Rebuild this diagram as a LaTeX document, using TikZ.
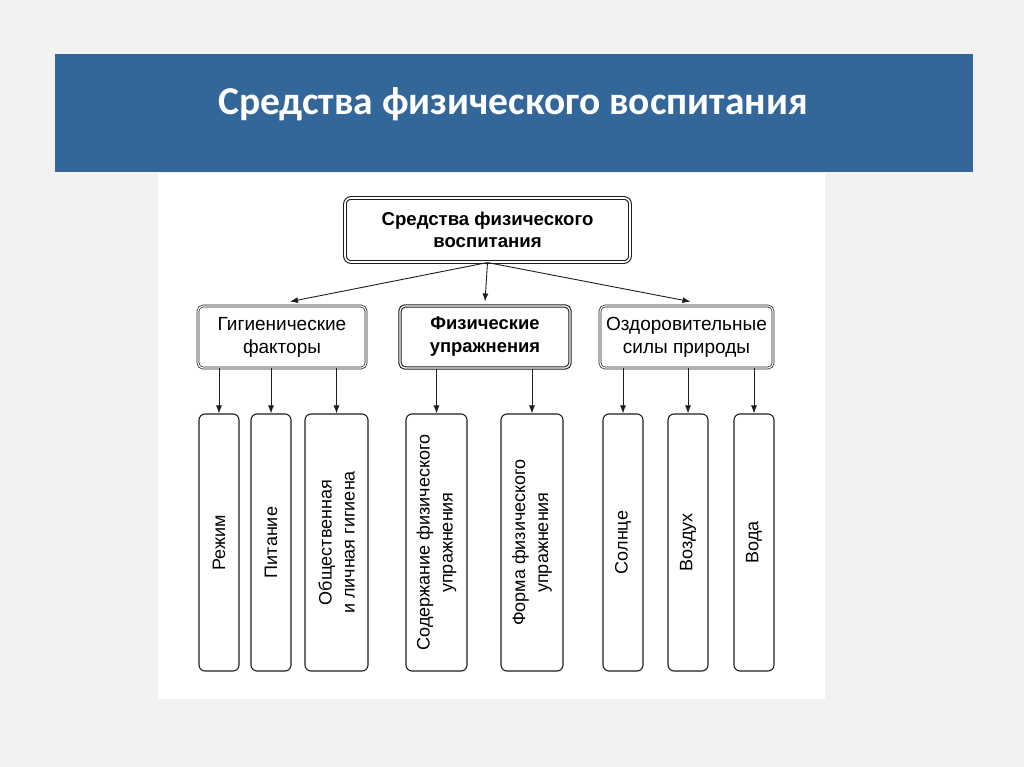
\documentclass[tikz,border=0pt]{standalone}
\usepackage{fontspec}
\setmainfont{Liberation Sans}
\newfontfamily\titlefont{Carlito}
\usetikzlibrary{arrows.meta}
\definecolor{banner}{RGB}{51,102,153}
\definecolor{slidebg}{RGB}{242,242,242}
\definecolor{ink}{RGB}{30,30,30}
\tikzset{
  titletext/.style={text=white, font=\titlefont\bfseries\fontsize{39.5}{44}\selectfont},
  topbox/.style={draw=ink, double=white, line width=1.1pt, double distance=1.6pt, rounded corners=6pt,
    align=center, minimum width=285, minimum height=64, inner sep=0pt, font=\bfseries\fontsize{18.6}{22}\selectfont},
  midbox/.style={draw=ink, double=white, line width=0.7pt, double distance=1.2pt, rounded corners=5pt,
    align=center, minimum height=62, inner sep=0pt, font=\fontsize{19}{23}\selectfont},
  boldmid/.style={midbox, line width=1.1pt, font=\bfseries\fontsize{18.4}{23}\selectfont},
  leafbox/.style={draw=ink, line width=1.1pt, rounded corners=6pt, rotate=90, align=center,
    minimum width=257, inner sep=0pt, font=\fontsize{18}{23}\selectfont},
  arr/.style={draw=ink, line width=0.9pt, -{Latex[length=8pt,width=6pt]}}
}
\begin{document}
\begin{tikzpicture}[x=1pt,y=-1pt]
\fill[slidebg] (0,0) rectangle (1024,767);
\useasboundingbox (0,0) rectangle (1024,767);
\fill[banner] (55,54) rectangle (973,172);
\node[titletext] (title) at (513,104) {Средства физического воспитания};
\fill[white] (158,173) rectangle (825,699);

\node[topbox] (top) at (487.5,230) {Средства физического\\воспитания};

\node[midbox, minimum width=168] (hyg) at (282,337) {Гигиенические\\факторы};
\node[boldmid, minimum width=170] (ex) at (485,337) {Физические\\упражнения};
\node[midbox, minimum width=173] (nat) at (686.5,337) {Оздоровительные\\силы природы};

\draw[arr] (top.south) -- ([xshift=8pt,yshift=4pt]hyg.north);
\draw[arr] (top.south) -- ([yshift=4pt]ex.north);
\draw[arr] (top.south) -- ([xshift=4pt,yshift=4pt]nat.north);

\node[leafbox, minimum height=40] (rezh) at (219,542.5) {Режим};
\node[leafbox, minimum height=40] (pit) at (271,542.5) {Питание};
\node[leafbox, minimum height=63] (obsh) at (336.5,542.5) {Общественная\\и личная гигиена};
\node[leafbox, minimum height=61] (sod) at (436.5,542.5) {Содержание физического\\упражнения};
\node[leafbox, minimum height=62] (form) at (532,542.5) {Форма физического\\упражнения};
\node[leafbox, minimum height=40] (sol) at (623,542.5) {Солнце};
\node[leafbox, minimum height=40] (voz) at (688,542.5) {Воздух};
\node[leafbox, minimum height=40] (voda) at (754,542.5) {Вода};

\draw[arr] (hyg.south -| rezh.east) -- (rezh.east);
\draw[arr] (hyg.south -| pit.east) -- (pit.east);
\draw[arr] (hyg.south -| obsh.east) -- (obsh.east);
\draw[arr] (ex.south -| sod.east) -- (sod.east);
\draw[arr] (ex.south -| form.east) -- (form.east);
\draw[arr] (nat.south -| sol.east) -- (sol.east);
\draw[arr] (nat.south -| voz.east) -- (voz.east);
\draw[arr] (nat.south -| voda.east) -- (voda.east);
\end{tikzpicture}
\end{document}
